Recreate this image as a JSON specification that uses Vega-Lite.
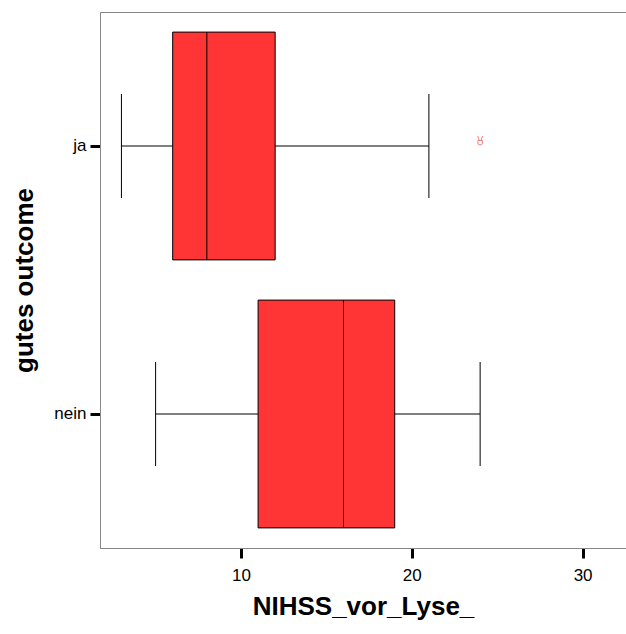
{
  "$schema": "https://vega.github.io/schema/vega-lite/v6.json",
  "width": 526,
  "height": 536,
  "autosize": {"type": "none"},
  "padding": {"left": 100, "top": 12, "right": 0, "bottom": 86},
  "background": "white",
  "config": {
    "font": "Liberation Sans",
    "view": {"stroke": "#888888", "strokeWidth": 1},
    "axis": {
      "grid": false,
      "domainColor": "#888888",
      "domainWidth": 1,
      "tickColor": "black",
      "tickWidth": 3,
      "tickSize": 10,
      "labelColor": "black",
      "labelFontSize": 17,
      "titleFontSize": 26,
      "titleFontWeight": "bold",
      "titleColor": "black"
    }
  },
  "datasets": {
    "boxes": [
      {"outcome": "ja", "lo": 3, "q1": 6, "med": 8, "q3": 12, "hi": 21},
      {"outcome": "nein", "lo": 5, "q1": 11, "med": 16, "q3": 19, "hi": 24}
    ],
    "outliers": [
      {"outcome": "ja", "value": 24}
    ]
  },
  "encoding": {
    "y": {
      "field": "outcome",
      "type": "nominal",
      "sort": ["ja", "nein"],
      "scale": {"paddingInner": 0.15, "paddingOuter": 0.075},
      "axis": {"title": "gutes outcome", "labelPadding": 4, "titlePadding": 16}
    }
  },
  "layer": [
    {
      "data": {"name": "boxes"},
      "mark": {"type": "rule", "color": "black", "strokeWidth": 1},
      "encoding": {
        "x": {
          "field": "lo",
          "type": "quantitative",
          "scale": {"domain": [1.745, 32.54], "nice": false, "zero": false},
          "axis": {"values": [10, 20, 30], "title": "NIHSS_vor_Lyse_", "labelPadding": 9, "titlePadding": 10}
        },
        "x2": {"field": "hi"}
      }
    },
    {
      "data": {"name": "boxes"},
      "mark": {"type": "tick", "color": "black", "thickness": 1, "size": 104, "opacity": 1},
      "encoding": {"x": {"field": "lo", "type": "quantitative"}}
    },
    {
      "data": {"name": "boxes"},
      "mark": {"type": "tick", "color": "black", "thickness": 1, "size": 104, "opacity": 1},
      "encoding": {"x": {"field": "hi", "type": "quantitative"}}
    },
    {
      "data": {"name": "boxes"},
      "mark": {"type": "bar", "fill": "#ff3535", "stroke": "black", "strokeWidth": 1, "opacity": 1},
      "encoding": {
        "x": {"field": "q1", "type": "quantitative"},
        "x2": {"field": "q3"}
      }
    },
    {
      "data": {"name": "boxes"},
      "mark": {"type": "tick", "color": "black", "thickness": 1, "size": 228, "opacity": 1},
      "encoding": {"x": {"field": "med", "type": "quantitative"}}
    },
    {
      "data": {"name": "outliers"},
      "mark": {
        "type": "point",
        "shape": "M-0.5,-1 L-0.15,-0.1 M0.5,-1 L0.15,-0.1 M-0.45,-0.1 L0.45,-0.1 L0.45,0.6 Q0,1 -0.45,0.6 Z",
        "size": 100,
        "filled": false,
        "stroke": "#f08080",
        "strokeWidth": 1,
        "opacity": 1,
        "yOffset": -5
      },
      "encoding": {
        "x": {"field": "value", "type": "quantitative"}
      }
    }
  ]
}
